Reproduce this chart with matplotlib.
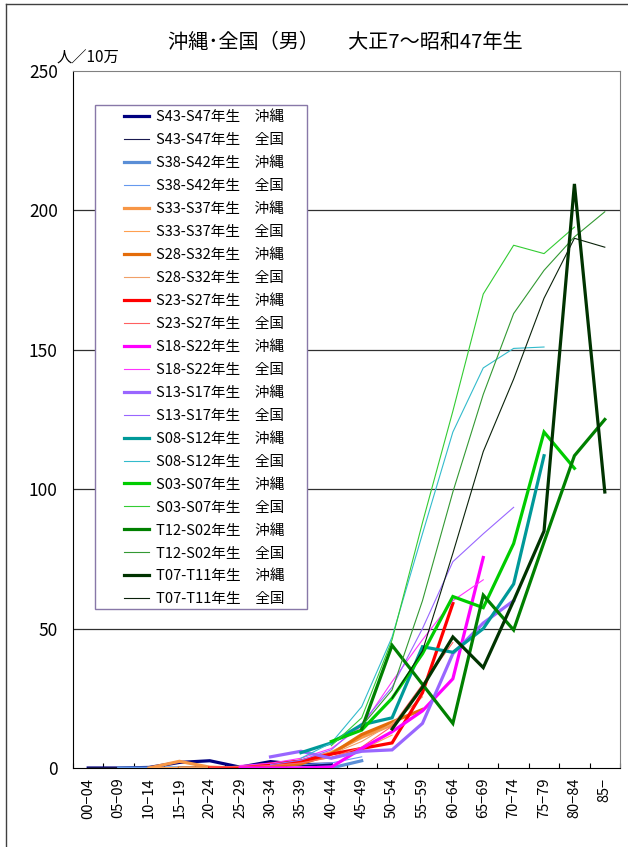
import matplotlib.pyplot as plt
from matplotlib.patches import Rectangle
from matplotlib.lines import Line2D
from matplotlib.legend_handler import HandlerLine2D

plt.rcParams['font.family'] = ['Noto Sans CJK JP', 'DejaVu Sans']

# age groups on the x axis
ages = ['00−04', '05−09', '10−14', '15−19', '20−24', '25−29', '30−34', '35−39', '40−44',
        '45−49', '50−54', '55−59', '60−64', '65−69', '70−74', '75−79', '80−84', '85−']

cohorts = ['S43-S47', 'S38-S42', 'S33-S37', 'S28-S32', 'S23-S27',
           'S18-S22', 'S13-S17', 'S08-S12', 'S03-S07', 'T12-S02', 'T07-T11']
# index of the first age group of each cohort
start_idx = [0, 1, 2, 3, 4, 5, 6, 7, 8, 9, 10]

# 沖縄 (rate per 100,000)
oki_S43 = [0, 0, 0.2, 2.0, 2.6, 0.3, 2.3, 1.2, 1.4]
oki_S38 = [0, 0, 0, 0, 0, 0, 0, 0, 2.6]
oki_S33 = [0, 2.4, 0.3, 0, 0.8, 2.5, 5.5, 11, 15.5]
oki_S28 = [0, 0, 0, 0.5, 1.5, 5, 12, 16.5, 21]
oki_S23 = [0, 0, 1.5, 2.5, 5, 7, 9, 27, 59]
oki_S18 = [0, 0, 0, 0.3, 7, 13, 20.5, 32, 75.5]
oki_S13 = [4, 6, 3.5, 6, 6.5, 16, 41, 52, 60]
oki_S08 = [5.5, 9, 15.5, 18, 43.5, 41.5, 50, 66, 112]
oki_S03 = [9.5, 13.6, 25, 41, 61.5, 57.5, 80.5, 120.5, 107.5]
oki_T12 = [14, 44, 30, 16, 62, 49.5, 81, 112, 125]
oki_T07 = [14, 29, 47, 36, 60, 85, 209.5, 99]

# 全国
zen_S43 = [0.1, 0.1, 0.1, 0.2, 0.3, 0.4, 0.6, 1.0, 1.6]
zen_S38 = [0.1, 0.1, 0.2, 0.3, 0.5, 0.8, 1.2, 1.8, 4.0]
zen_S33 = [0.1, 0.2, 0.3, 0.6, 1.0, 2.0, 3.8, 6.5, 11.8]
zen_S28 = [0.2, 0.3, 0.6, 1.2, 2.5, 5, 9.5, 16, 25.5]
zen_S23 = [0.3, 0.5, 0.9, 1.8, 3.8, 7.5, 15, 30, 45]
zen_S18 = [0.9, 1.7, 3.5, 7, 15, 31, 46, 60, 67.5]
zen_S13 = [1.2, 2.8, 6.5, 16, 29, 50, 74, 84, 93.5]
zen_S08 = [3.5, 9, 22, 47, 84, 120.5, 143.5, 150.5, 151]
zen_S03 = [8, 18, 46, 88, 128, 170, 187.5, 184.5, 194]
zen_T12 = [15, 28, 60, 99, 134, 163, 178.5, 190.5, 199.5]
zen_T07 = [25, 42, 77, 113.5, 139.5, 168.5, 190, 186.8]

oki_vals = [oki_S43, oki_S38, oki_S33, oki_S28, oki_S23, oki_S18, oki_S13, oki_S08, oki_S03, oki_T12, oki_T07]
zen_vals = [zen_S43, zen_S38, zen_S33, zen_S28, zen_S23, zen_S18, zen_S13, zen_S08, zen_S03, zen_T12, zen_T07]

oki_colors = ['#000080', '#5A8ED6', '#F79646', '#E46C0A', '#FF0000', '#FF00FF',
              '#9966FF', '#009999', '#00CC00', '#008000', '#003300']
zen_colors = ['#1A1A50', '#6699EE', '#FFA050', '#F0A068', '#FF6060', '#FF33FF',
              '#9966FF', '#33BBCC', '#33CC33', '#339933', '#0A220A']

fig = plt.figure(figsize=(6.28, 8.47), dpi=100)
ax = fig.add_axes([73 / 628, 79 / 847, 547 / 628, 697 / 847])

handles = []
labels = []
for i, c in enumerate(cohorts):
    s = start_idx[i]
    xo = list(range(s, s + len(oki_vals[i])))
    xz = list(range(s, s + len(zen_vals[i])))
    l1, = ax.plot(xo, oki_vals[i], color=oki_colors[i], lw=2.3, zorder=3, solid_joinstyle='miter')
    l2, = ax.plot(xz, zen_vals[i], color=zen_colors[i], lw=0.8, zorder=3)
    handles += [l1, l2]
    labels += [c + '年生　沖縄', c + '年生　全国']

ax.set_xlim(-0.5, 17.5)
ax.set_ylim(0, 250)
ax.set_yticks(range(0, 251, 50))
ax.set_xticks(range(len(ages)))
ax.set_xticklabels(ages, rotation=90, fontsize=10.5)
ax.set_xticks([i + 0.5 for i in range(-1, 18)], minor=True)
ax.tick_params(axis='x', which='major', length=0, pad=7)
ax.tick_params(axis='x', which='minor', direction='in', length=3.6, width=0.8)
ax.tick_params(axis='y', length=0, pad=11, labelsize=12.5)

for v in [50, 100, 150, 200]:
    ax.axhline(v, color='#303030', lw=0.9, zorder=1)

ax.spines['left'].set_color('black')
ax.spines['bottom'].set_color('black')
ax.spines['top'].set_color('#808080')
ax.spines['right'].set_color('#808080')

# legend box
ax.add_patch(Rectangle((95 / 628, 1 - 609 / 847), 212 / 628, 504 / 847,
                       transform=fig.transFigure, facecolor='white',
                       edgecolor='#8878A8', lw=1, zorder=4, clip_on=False))
leg = ax.legend(handles, labels, loc='upper left',
                bbox_to_anchor=(95 / 628, 1 - 105 / 847), bbox_transform=fig.transFigure,
                frameon=False, fontsize=10.5, handlelength=3.35, handletextpad=0.48,
                labelspacing=0.615, borderpad=0.35, borderaxespad=0,
                handler_map={Line2D: HandlerLine2D(xpad=1.64)})
leg.set_zorder(5)

fig.text(345 / 628, 1 - 42 / 847, '沖縄･全国（男）　  大正7～昭和47年生',
         fontsize=14.5, ha='center', va='center')
fig.text(57 / 628, 1 - 58 / 847, '人／10万', fontsize=11, ha='left', va='center')

# outer chart frame (left and top)
fig.add_artist(Line2D([5.5 / 628, 5.5 / 628], [0, 1 - 4 / 847], transform=fig.transFigure,
                      color='#404040', lw=1))
fig.add_artist(Line2D([5.5 / 628, 1], [1 - 4 / 847, 1 - 4 / 847], transform=fig.transFigure,
                      color='#404040', lw=1))

fig.savefig('out.png', dpi=100)
